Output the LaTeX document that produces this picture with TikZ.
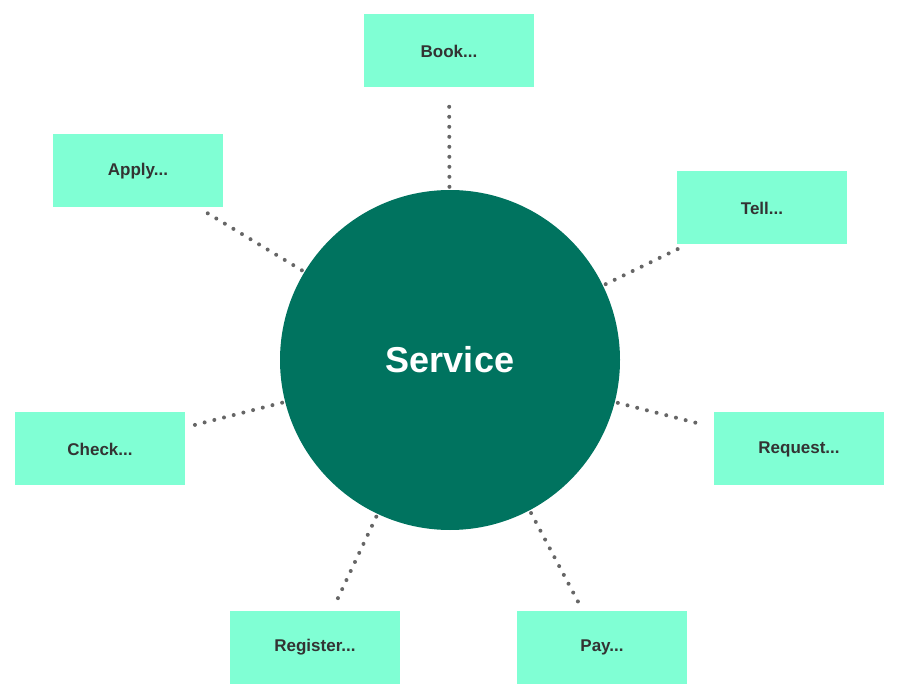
\documentclass[tikz,border=0pt]{standalone}
\usepackage{fontspec}
\setmainfont{Liberation Sans}
\definecolor{boxc}{HTML}{80FFD4}
\definecolor{circc}{HTML}{00735F}
\definecolor{txt}{HTML}{333333}
\definecolor{dotc}{HTML}{666666}
\begin{document}
\begin{tikzpicture}[x=1pt,y=-1pt,
  item/.style={fill=boxc,minimum width=170pt,minimum height=73pt,inner sep=0pt,font=\fontsize{17}{20}\selectfont\bfseries,text=txt},
  link/.style={dotc,line width=4pt,line cap=round,dash pattern=on 0pt off 10pt,shorten <=3pt,shorten >=10pt}]
\useasboundingbox (0,0) rectangle (900,700);
\node[circle,fill=circc,minimum size=340pt,inner sep=0pt,text=white,font=\fontsize{36}{40}\selectfont\bfseries] (c) at (450,360) {Service};
\node[item] (book) at (449,51) {Book...};
\node[item] (apply) at (138,171) {Apply...};
\node[item] (tell) at (762,208) {Tell...};
\node[item] (check) at (100,449) {Check...};
\node[item] (req) at (799,449) {Request...};
\node[item] (reg) at (315,647) {Register...};
\node[item] (pay) at (602,647) {Pay...};
\foreach \n in {book,apply,tell,check,req,reg,pay}
  \draw[link] (c) -- (\n);
\end{tikzpicture}
\end{document}
